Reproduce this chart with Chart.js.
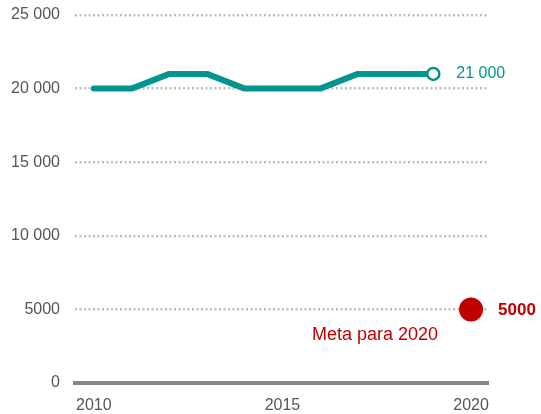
<!DOCTYPE html>
<html>
<head>
<meta charset="utf-8">
<script src="https://cdn.jsdelivr.net/npm/chart.js@4"></script>
<style>
  html, body { margin: 0; padding: 0; background: #fff; }
</style>
</head>
<body>
<canvas id="myChart" width="541" height="414"></canvas>
<script>
// data
const years = [2010, 2011, 2012, 2013, 2014, 2015, 2016, 2017, 2018, 2019];
const values = [20000, 20000, 21000, 21000, 20000, 20000, 20000, 21000, 21000, 21000];
const goalYear = 2020;
const goalValue = 5000;
const goalLabel = 'Meta para 2020';
const xTicks = [2010, 2015, 2020];
const yTicks = [0, 5000, 10000, 15000, 20000, 25000];

const teal = '#00968f';
const red = '#c00000';
const family = '"Liberation Sans", Arial, sans-serif';

function fmt(v) {
  if (v >= 10000) {
    const s = String(v);
    return s.slice(0, s.length - 3) + ' ' + s.slice(-3);
  }
  return String(v);
}

// labels next to the last point and the goal point
const labelPlugin = {
  id: 'labels',
  afterDatasetsDraw(chart) {
    const ctx = chart.ctx;
    const x = chart.scales.x, y = chart.scales.y;
    const last = values.length - 1;
    ctx.save();
    ctx.textBaseline = 'middle';
    ctx.textAlign = 'left';
    ctx.fillStyle = teal;
    ctx.font = '16px ' + family;
    ctx.fillText(fmt(values[last]), x.getPixelForValue(years[last]) + 23, y.getPixelForValue(values[last]));
    ctx.fillStyle = red;
    ctx.font = 'bold 17px ' + family;
    ctx.fillText(String(goalValue), x.getPixelForValue(goalYear) + 27, y.getPixelForValue(goalValue) + 1);
    ctx.font = '18px ' + family;
    ctx.textAlign = 'right';
    ctx.fillText(goalLabel, x.getPixelForValue(goalYear) - 33, y.getPixelForValue(goalValue) + 26);
    ctx.restore();
  }
};

const config = {
  type: 'line',
  data: {
    datasets: [{
      data: years.map((yr, i) => ({ x: yr, y: values[i] })),
      borderColor: teal,
      borderWidth: 6,
      borderCapStyle: 'round',
      borderJoinStyle: 'round',
      tension: 0,
      pointRadius: ctx => ctx.dataIndex === years.length - 1 ? 6 : 0,
      pointBorderWidth: 2.5,
      pointBackgroundColor: '#fff',
      pointBorderColor: teal
    }, {
      data: [{ x: goalYear, y: goalValue }],
      showLine: false,
      pointRadius: 12,
      pointBorderWidth: 0,
      pointBackgroundColor: red,
      pointBorderColor: red
    }]
  },
  options: {
    responsive: false,
    animation: false,
    layout: { autoPadding: false, padding: { top: 15, right: 53, left: 0, bottom: 0 } },
    plugins: { legend: { display: false }, tooltip: { enabled: false } },
    scales: {
      x: {
        type: 'linear',
        min: 2009.5,
        max: 2020.45,
        afterBuildTicks: s => { s.ticks = xTicks.map(v => ({ value: v })); },
        afterFit: s => { s.height = 31; },
        grid: { display: false, drawTicks: false },
        border: { display: true, color: '#888', width: 4 },
        ticks: {
          color: '#555',
          padding: 13,
          font: { family: family, size: 16 },
          callback: v => String(v),
          maxRotation: 0
        }
      },
      y: {
        min: 0,
        max: 25000,
        afterBuildTicks: s => { s.ticks = yTicks.map(v => ({ value: v })); },
        afterFit: s => { s.width = 75; s.paddingTop = 0; s.paddingBottom = 0; },
        border: { display: false, dash: [2, 2.5] },
        grid: {
          drawTicks: false,
          color: ctx => ctx.tick && ctx.tick.value === 0 ? 'rgba(0,0,0,0)' : '#bdbdbd',
          lineWidth: 2.5
        },
        ticks: {
          color: '#555',
          padding: 15,
          font: { family: family, size: 16 },
          callback: v => fmt(v)
        }
      }
    }
  },
  plugins: [labelPlugin]
};

const ctx = document.getElementById('myChart').getContext('2d');
new Chart(ctx, config);
</script>
</body>
</html>
